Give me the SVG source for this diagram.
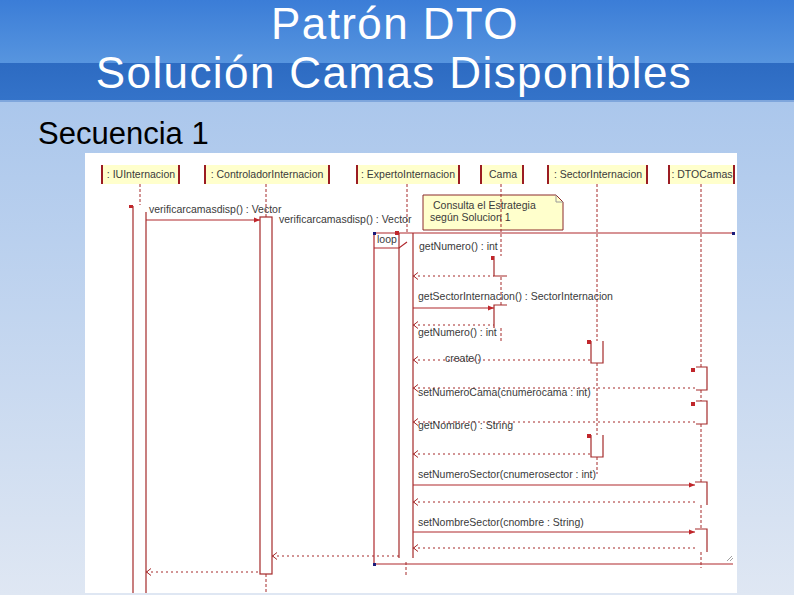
<svg xmlns="http://www.w3.org/2000/svg" width="794" height="595" viewBox="0 0 794 595">
<defs>
<linearGradient id="gTop" x1="0" y1="0" x2="0" y2="1"><stop offset="0" stop-color="#3b7dd7"/><stop offset="1" stop-color="#5795df"/></linearGradient>
<linearGradient id="gMid" x1="0" y1="0" x2="0" y2="1"><stop offset="0" stop-color="#2d6bc2"/><stop offset="1" stop-color="#3473c9"/></linearGradient>
<linearGradient id="gBody" x1="0" y1="0" x2="0" y2="1"><stop offset="0" stop-color="#abc7ec"/><stop offset="1" stop-color="#dfe7f3"/></linearGradient>
<marker id="arr" viewBox="0 0 6 6" refX="6" refY="3" markerWidth="6" markerHeight="6" orient="auto" markerUnits="userSpaceOnUse"><path d="M0,0.5 L6,3 L0,5.5 z" fill="#c0262b"/></marker>
<marker id="ret" viewBox="0 0 6 8" refX="0" refY="4" markerWidth="6" markerHeight="8" orient="auto" markerUnits="userSpaceOnUse"><path d="M5,0.5 L0.5,4 L5,7.5" fill="none" stroke="#a52a2a" stroke-width="1"/></marker>
</defs>
<style>
.title{font-family:"Liberation Sans",Arial,sans-serif;font-size:44px;letter-spacing:1.4px;fill:#ffffff;text-anchor:middle}
.sub{font-family:"Liberation Sans",Arial,sans-serif;font-size:31px;fill:#000000}
.hdr{fill:#ffffcc;stroke:none}
.hl{stroke:#9b1c22;stroke-width:2;fill:none}
.t{font-family:"Liberation Sans",Arial,sans-serif;font-size:10.5px;fill:#3a3a3a}
.th{font-family:"Liberation Sans",Arial,sans-serif;font-size:10.5px;fill:#3a3a3a;text-anchor:middle}
.life{stroke:#a52a2a;stroke-width:1;stroke-dasharray:3 2;fill:none}
.act{stroke:#a52a2a;stroke-width:1.2;fill:none}
.msg{stroke:#b0282d;stroke-width:1.2;fill:none;marker-end:url(#arr)}
.rtn{stroke:#a52a2a;stroke-width:1;stroke-dasharray:2 3;fill:none;marker-start:url(#ret)}
.frame{stroke:#b0282d;stroke-width:1.2;fill:none}
.corner{fill:#1a1a7a}
.mk{fill:#c0262b}
</style>
<rect x="0" y="0" width="794" height="63" fill="url(#gTop)"/>
<rect x="0" y="63" width="794" height="37" fill="url(#gMid)"/>
<rect x="0" y="100" width="794" height="2" fill="#7fa6dc"/>
<rect x="0" y="102" width="794" height="493" fill="url(#gBody)"/>
<text class="title" x="395" y="38.5">Patrón DTO</text>
<text class="title" x="394" y="88">Solución Camas Disponibles</text>
<text class="sub" x="38" y="144">Secuencia 1</text>
<rect x="85" y="153" width="652" height="440" fill="#ffffff"/>

<g id="note">
<path d="M423,195 H556 L563,202 V230 H423 Z" fill="#ffffcc" stroke="#8b2a2a" stroke-width="1"/>
<path d="M556,195 V202 H563" fill="none" stroke="#999999" stroke-width="1"/>
<text class="t" x="433" y="209">Consulta el Estrategia</text>
<text class="t" x="430" y="221">según Solucion 1</text>
</g>

<g id="loop">
<path class="frame" d="M733,233 H374 V564 H733"/>
<path class="frame" d="M374,248 H399 L407,242"/>
<text class="t" x="377" y="243">loop</text>
<rect class="corner" x="373" y="232" width="3" height="3"/>
<rect class="corner" x="732" y="232" width="3" height="3"/>
<rect class="corner" x="373" y="563" width="3" height="3"/>
<path d="M727,561 L732,556 M730,561 L733,558" stroke="#888" stroke-width="0.8"/>
</g>

<g id="IUInternacion">
<rect class="hdr" x="102" y="165" width="77" height="19"/>
<path class="hl" d="M102,165 V184 M179,165 V184"/>
<text class="th" x="141" y="178">: IUInternacion</text>
<path class="life" d="M140,184 V205"/>
<path class="act" d="M133,206 V593 M146,212 V593"/>
<rect class="mk" x="129" y="205" width="4" height="3"/>
</g>

<g id="ControladorInternacion">
<rect class="hdr" x="205" y="165" width="124" height="19"/>
<path class="hl" d="M205,165 V184 M329,165 V184"/>
<text class="th" x="267" y="178">: ControladorInternacion</text>
<path class="life" d="M266,184 V217 M266,574 V592"/>
<rect class="act" x="260" y="217" width="12" height="357"/>
</g>

<g id="ExpertoInternacion">
<rect class="hdr" x="357" y="165" width="102" height="19"/>
<path class="hl" d="M357,165 V184 M459,165 V184"/>
<text class="th" x="408" y="178">: ExpertoInternacion</text>
<path class="life" d="M407,184 V232 M406,562 V575"/>
<path class="act" d="M399,233 V558 M413,233 V558"/>
<rect class="mk" x="395" y="231" width="4" height="4"/>
</g>

<g id="Cama">
<rect class="hdr" x="481" y="165" width="42" height="19"/>
<path class="hl" d="M481,165 V184 M523,165 V184"/>
<text class="th" x="503" y="178">Cama</text>
<path class="life" d="M501,184 V256 M501,277 V305 M501,328 V343"/>
<path class="act" d="M494,256 V276 H507"/>
<rect class="mk" x="491" y="256" width="3" height="4"/>
<path class="act" d="M507,305 H494 V328"/>
</g>

<g id="SectorInternacion">
<rect class="hdr" x="548" y="165" width="99" height="19"/>
<path class="hl" d="M548,165 V184 M647,165 V184"/>
<text class="th" x="598" y="178">: SectorInternacion</text>
<path class="life" d="M597,184 V341 M597,363 V435 M597,457 V474"/>
<path class="act" d="M591,341 V363 H603 V341"/>
<rect class="mk" x="587" y="340" width="4" height="4"/>
<path class="act" d="M591,435 V457 H603 V435"/>
<rect class="mk" x="587" y="434" width="4" height="4"/>
</g>

<g id="DTOCamas">
<rect class="hdr" x="669" y="165" width="65" height="19"/>
<path class="hl" d="M669,165 V184 M734,165 V184"/>
<text class="th" x="702" y="178">: DTOCamas</text>
<path class="life" d="M701,184 V367 M701,390 V401 M701,424 V482 M701,505 V529 M701,552 V568"/>
<path class="act" d="M696,367 H707 V390 H696"/>
<rect class="mk" x="691" y="368" width="4" height="4"/>
<path class="act" d="M696,401 H707 V424 H696"/>
<rect class="mk" x="691" y="402" width="4" height="4"/>
<path class="act" d="M695,482 H707 V505"/>
<path class="act" d="M695,529 H707 V552"/>
</g>

<g id="connectors">
<path class="msg" d="M146,220 H260"/>
<text class="t" x="149" y="213">verificarcamasdisp() : Vector</text>
<text class="t" x="279" y="223">verificarcamasdisp() : Vector</text>
<text class="t" x="419" y="250">getNumero() : int</text>
<path class="rtn" d="M413,276 H494"/>
<text class="t" x="418" y="300">getSectorInternacion() : SectorInternacion</text>
<path class="msg" d="M413,308 H494"/>
<path class="rtn" d="M413,325 H494"/>
<text class="t" x="418" y="336">getNumero() : int</text>
<path class="rtn" d="M413,360 H591"/>
<text class="t" x="445" y="362">create()</text>
<path class="rtn" d="M413,388 H696"/>
<text class="t" x="418" y="396">setNumeroCama(cnumerocama : int)</text>
<path class="rtn" d="M413,422 H696"/>
<text class="t" x="418" y="429">getNombre() : String</text>
<path class="rtn" d="M413,454 H591"/>
<text class="t" x="418" y="478">setNumeroSector(cnumerosector : int)</text>
<path class="msg" d="M413,485 H695"/>
<path class="rtn" d="M413,502 H695"/>
<text class="t" x="418" y="526">setNombreSector(cnombre : String)</text>
<path class="msg" d="M413,532 H695"/>
<path class="rtn" d="M413,548 H695"/>
<path class="rtn" d="M272,556 H399"/>
<path class="rtn" d="M146,572 H260"/>
</g>
</svg>
